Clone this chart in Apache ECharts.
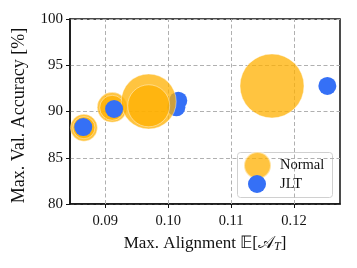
<!DOCTYPE html>
<html><head><meta charset="utf-8">
<script src="https://cdn.jsdelivr.net/npm/echarts@6/dist/echarts.min.js"></script>
<style>html,body{margin:0;padding:0;background:#fff}#c{width:357px;height:268px}</style>
</head><body><div id="c"></div>
<script>
// Data
const normalX = [0.0866, 0.0866, 0.0911, 0.0911, 0.0969, 0.0969, 0.1165];
const normalY = [88.25, 88.25, 90.45, 90.4, 91.08, 90.62, 92.76];
const normalSize = [27, 22, 30, 25, 55, 42, 64];
const jltX = [0.0865, 0.0914, 0.1016, 0.1013, 0.1253];
const jltY = [88.32, 90.27, 91.17, 90.45, 92.76];
const jltUnderNormal = [false, false, true, true, false];
const xTicks = [0.09, 0.10, 0.11, 0.12];
const yTicks = [80, 85, 90, 95, 100];

const FONT = 'Liberation Serif';
const ORANGE = '#FFB000';
const BLUE = '#3570F6';

const normalData = normalX.map((x, i) => [x, normalY[i], normalSize[i]]);
const jltUnder = [], jltOver = [];
jltX.forEach((x, i) => (jltUnderNormal[i] ? jltUnder : jltOver).push([x, jltY[i]]));

const chart = echarts.init(document.getElementById('c'), null, {renderer: 'canvas'});
const gridStyle = {color: '#b0b0b0', width: 1, type: [4, 2.5]};
chart.setOption({
  animation: false,
  textStyle: {fontFamily: FONT},
  grid: {left: 70, right: 17, top: 19, bottom: 64, show: true, borderColor: '#111', borderWidth: 1.5, backgroundColor: 'transparent'},
  xAxis: {
    type: 'value', min: 0.08439, max: 0.12731,
    axisLine: {show: true, lineStyle: {color: '#111', width: 1.5}},
    axisTick: {show: true, length: 4, customValues: xTicks, lineStyle: {color: '#111'}},
    axisLabel: {customValues: xTicks, margin: 10, color: '#111', fontFamily: FONT, fontSize: 14.5, formatter: v => v.toFixed(2)},
    splitLine: {show: false},
    name: '{t|Max. Alignment 𝔼[𝒜}{s|T}{t|]}',
    nameLocation: 'middle', nameGap: 31,
    nameTextStyle: {rich: {t: {fontFamily: FONT, fontSize: 17, color: '#111'}, s: {fontFamily: FONT, fontSize: 12, color: '#111', fontStyle: 'italic', verticalAlign: 'bottom', padding: [6, 0, 0, 0]}}}
  },
  yAxis: {
    type: 'value', min: 80, max: 100, interval: 5,
    axisLine: {show: true, lineStyle: {color: '#111', width: 1.5}},
    axisTick: {show: true, length: 4, lineStyle: {color: '#111'}},
    axisLabel: {margin: 7, color: '#111', fontFamily: FONT, fontSize: 15, customValues: yTicks},
    splitLine: {show: true, lineStyle: gridStyle},
    name: 'Max. Val. Accuracy [%]', nameLocation: 'middle', nameGap: 42,
    nameTextStyle: {fontFamily: FONT, fontSize: 18, color: '#111', padding: [0, 0, 0, -8]}
  },
  legend: [
    {data: ['Normal'], left: 243, top: 151, itemWidth: 27, itemHeight: 27, icon: 'circle', padding: 0,
     textStyle: {fontFamily: FONT, fontSize: 14.5, color: '#111', padding: [0, 0, 0, 4]}},
    {data: ['JLT'], left: 248, top: 175, itemWidth: 18, itemHeight: 18, icon: 'circle', padding: 0,
     textStyle: {fontFamily: FONT, fontSize: 14.5, color: '#111', padding: [0, 0, 0, 9]}}
  ],
  graphic: [{type: 'rect', left: 237, top: 152, z: -1, shape: {width: 95, height: 45, r: 3},
    style: {fill: 'rgba(255,255,255,0.8)', stroke: '#d0d0d0', lineWidth: 1}}],
  series: [
    {type: 'scatter', data: [], silent: true, z: 1,
     markLine: {silent: true, symbol: 'none', z: 1, label: {show: false}, lineStyle: gridStyle,
       data: xTicks.map(v => ({xAxis: v}))}},
    {name: 'JLT', type: 'scatter', data: jltUnder, symbolSize: 18, z: 3,
     itemStyle: {color: BLUE, opacity: 1}},
    {name: 'Normal', type: 'scatter', data: normalData, symbolSize: d => d[2], z: 3,
     itemStyle: {color: ORANGE, opacity: 0.75, borderColor: 'rgba(255,255,255,0.7)', borderWidth: 0.8}},
    {name: 'JLT', type: 'scatter', data: jltOver, symbolSize: 18, z: 3,
     itemStyle: {color: BLUE, opacity: 1}}
  ]
});
</script></body></html>
